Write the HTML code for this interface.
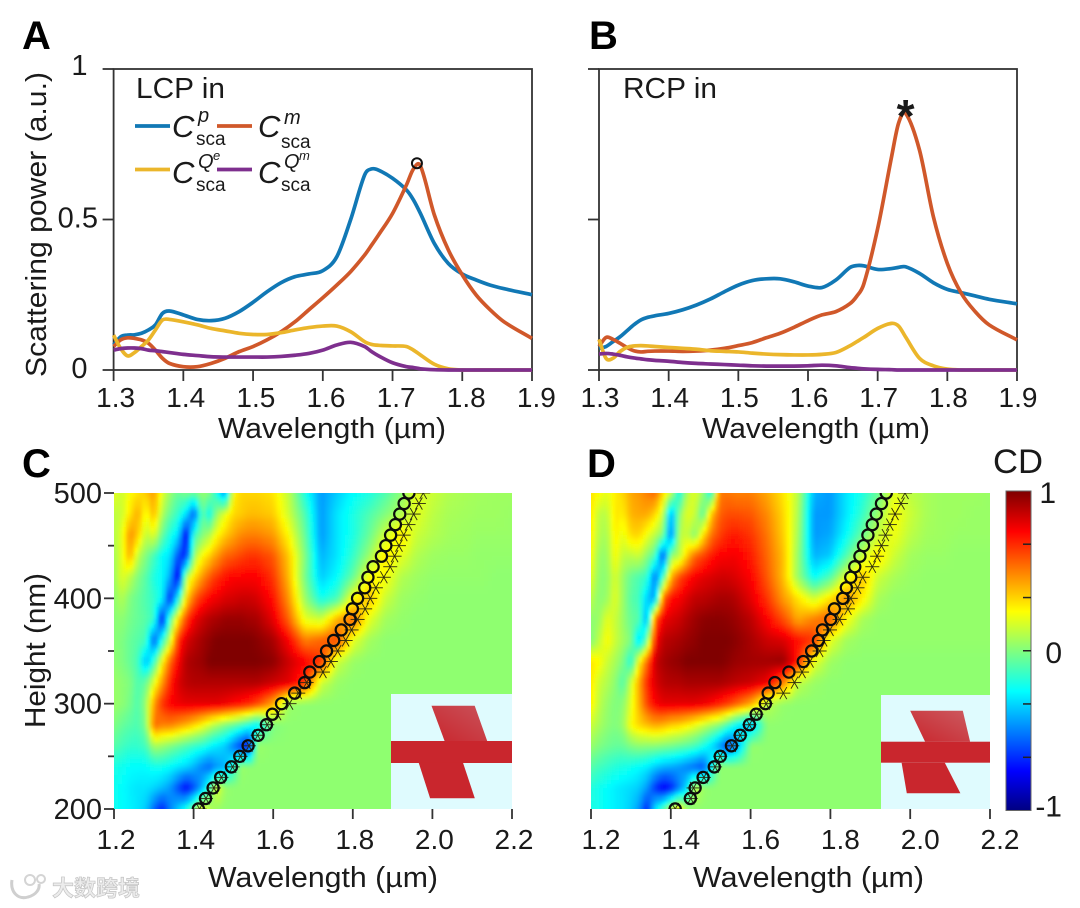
<!DOCTYPE html>
<html lang="en">
<head>
<meta charset="utf-8">
<title>Scattering power and CD maps</title>
<style>
html,body{margin:0;padding:0;background:#fff;}
svg{display:block;}
text{font-family:"Liberation Sans","Noto Sans CJK SC",sans-serif;fill:#1a1a1a;}
</style>
</head>
<body>
<svg id="figure" width="1080" height="908" viewBox="0 0 1080 908" xmlns="http://www.w3.org/2000/svg">
<defs>
  <filter id="soften" x="-2%" y="-2%" width="104%" height="104%"><feGaussianBlur stdDeviation="1.6"/></filter>
  <clipPath id="clip-c"><rect x="114" y="493" width="398" height="316"/></clipPath>
  <clipPath id="clip-d"><rect x="591" y="493" width="399" height="316"/></clipPath>
  <linearGradient id="arm-c" x1="1" y1="0" x2="0" y2="1"><stop offset="0" stop-color="#c9525a"/><stop offset="1" stop-color="#c9262d"/></linearGradient>
  <linearGradient id="arm-d" x1="1" y1="0" x2="0" y2="1"><stop offset="0" stop-color="#cc5a60"/><stop offset="1" stop-color="#c9262d"/></linearGradient>
</defs>
<rect x="0" y="0" width="1080" height="908" fill="#fff"/>
<g id="layer-heat"></g>
<g id="layer-inset">
  <rect x="391" y="694" width="121" height="115" fill="#dffbfe"/>
  <polygon points="431.5,705.7 474.7,705.7 487.2,741 444.6,741" fill="url(#arm-c)"/>
  <rect x="391" y="741" width="121" height="22" fill="#c9262d"/>
  <polygon points="418.7,762.7 463,762.7 474.8,798.3 430.1,798.3" fill="#c9262d"/>
  <rect x="881" y="695" width="109" height="114" fill="#dffbfe"/>
  <polygon points="910.2,710.7 962.8,710.7 970.1,741.7 925.1,741.7" fill="url(#arm-d)"/>
  <rect x="881" y="741.7" width="109" height="21" fill="#c9262d"/>
  <polygon points="901.6,762.7 944.8,762.7 960.4,793.3 906.8,793.3" fill="#c9262d"/>
</g>
<g id="layer-axes"></g>
<g id="layer-series"></g>

<text x="22" y="49" font-size="40" font-weight="700" style="fill:#000">A</text>
<text x="589" y="49" font-size="40" font-weight="700" style="fill:#000">B</text>
<text x="22" y="477" font-size="40" font-weight="700" style="fill:#000">C</text>
<text x="587" y="477" font-size="40" font-weight="700" style="fill:#000">D</text>

<text transform="translate(46,377) rotate(-90)" font-size="29" textLength="305" lengthAdjust="spacingAndGlyphs">Scattering power (a.u.)</text>
<text x="218" y="438" font-size="29" textLength="228" lengthAdjust="spacingAndGlyphs">Wavelength (µm)</text>
<text x="702" y="438" font-size="29" textLength="228" lengthAdjust="spacingAndGlyphs">Wavelength (µm)</text>
<text transform="translate(45,728) rotate(-90)" font-size="29" textLength="155" lengthAdjust="spacingAndGlyphs">Height (nm)</text>
<text x="208" y="887" font-size="29" textLength="230" lengthAdjust="spacingAndGlyphs">Wavelength (µm)</text>
<text x="693" y="887" font-size="29" textLength="231" lengthAdjust="spacingAndGlyphs">Wavelength (µm)</text>

<text x="136" y="98" font-size="29" textLength="89" lengthAdjust="spacingAndGlyphs">LCP in</text>
<text x="623" y="98" font-size="29" textLength="94" lengthAdjust="spacingAndGlyphs">RCP in</text>

<g>
  <line x1="135" x2="170" y1="126" y2="126" stroke="#1178b5" stroke-width="3.8"/>
  <line x1="217" x2="252" y1="126" y2="126" stroke="#d0582a" stroke-width="3.8"/>
  <line x1="135" x2="170" y1="169.5" y2="169.5" stroke="#ebb62b" stroke-width="3.8"/>
  <line x1="217" x2="252" y1="169.5" y2="169.5" stroke="#7e2f8e" stroke-width="3.8"/>
  <g>
    <text x="172" y="137" font-size="31" font-style="italic">C</text>
    <text x="198" y="122" font-size="20" font-style="italic">p</text>
    <text x="196" y="145" font-size="19">sca</text>
  </g>
  <g>
    <text x="258" y="137" font-size="31" font-style="italic">C</text>
    <text x="284" y="124" font-size="20" font-style="italic">m</text>
    <text x="281" y="148" font-size="19">sca</text>
  </g>
  <g>
    <text x="172" y="183" font-size="31" font-style="italic">C</text>
    <text x="198" y="168" font-size="20" font-style="italic">Q</text>
    <text x="213" y="160" font-size="13" font-style="italic">e</text>
    <text x="196" y="191" font-size="19">sca</text>
  </g>
  <g>
    <text x="258" y="183" font-size="31" font-style="italic">C</text>
    <text x="284" y="168" font-size="20" font-style="italic">Q</text>
    <text x="299" y="160" font-size="13" font-style="italic">m</text>
    <text x="281" y="191" font-size="19">sca</text>
  </g>
</g>

<text x="993" y="473" font-size="34" textLength="50" lengthAdjust="spacingAndGlyphs">CD</text>

<g>
  <path d="M12 880 C10 892 18 900 28 897 C36 895 40 889 39 884" fill="none" stroke="#cfcfcf" stroke-width="3"/>
  <circle cx="30" cy="880" r="5" fill="none" stroke="#d4d4d4" stroke-width="2"/>
  <circle cx="41" cy="879" r="4" fill="none" stroke="#d4d4d4" stroke-width="2"/>
  <text x="52" y="896" font-size="22" font-weight="700" style="font-family:'Noto Sans CJK SC','WenQuanYi Zen Hei',sans-serif;fill:#ececec;stroke:#c4c4c4;stroke-width:.7">大数跨境</text>
</g>

<script>
/* ---------- line chart data (panels A and B) ---------- */
const curveWavelengths = [1.30,1.31,1.32,1.33,1.34,1.35,1.36,1.37,1.38,1.40,1.42,1.44,1.46,1.48,1.50,1.52,1.54,1.56,1.58,1.60,1.62,1.64,1.66,1.67,1.68,1.70,1.72,1.73,1.74,1.76,1.78,1.80,1.82,1.84,1.86,1.90];
const lcpP  = [.083,.11,.116,.117,.122,.133,.15,.188,.196,.183,.168,.164,.172,.194,.225,.26,.29,.31,.319,.33,.376,.50,.648,.668,.664,.637,.598,.565,.52,.42,.354,.319,.299,.282,.27,.25];
const lcpM  = [.078,.10,.107,.105,.10,.089,.066,.039,.022,.011,.011,.022,.039,.061,.078,.10,.127,.16,.20,.24,.282,.327,.382,.415,.449,.52,.615,.668,.678,.515,.399,.316,.249,.20,.16,.105];
const lcpQe = [.116,.072,.047,.058,.078,.10,.133,.166,.168,.16,.15,.138,.13,.122,.118,.118,.124,.133,.141,.146,.146,.127,.094,.085,.082,.08,.078,.066,.05,.019,.004,0,0,0,0,0];
const lcpQm = [.066,.071,.073,.073,.071,.066,.064,.061,.058,.052,.048,.044,.043,.043,.043,.043,.045,.049,.055,.066,.083,.092,.078,.061,.047,.024,.011,.008,.004,.001,0,0,0,0,0,0];
const rcpP  = [.072,.078,.094,.11,.13,.15,.166,.175,.18,.188,.20,.216,.236,.26,.282,.297,.303,.303,.293,.279,.274,.299,.34,.347,.346,.334,.337,.341,.343,.321,.29,.268,.257,.246,.235,.22];
const rcpM  = [.078,.108,.102,.089,.075,.064,.06,.062,.063,.063,.062,.063,.066,.072,.081,.091,.107,.122,.142,.164,.183,.194,.22,.245,.285,.47,.709,.82,.853,.731,.509,.354,.255,.194,.15,.10];
const rcpQe = [.102,.039,.039,.061,.075,.08,.081,.08,.078,.075,.072,.069,.064,.062,.06,.056,.053,.051,.05,.05,.052,.058,.08,.094,.108,.138,.155,.146,.11,.039,.014,.003,0,0,0,0];
const rcpQm = [.053,.055,.053,.049,.044,.04,.037,.034,.032,.029,.025,.022,.02,.018,.016,.014,.013,.013,.013,.014,.016,.014,.008,.006,.004,.002,.001,0,0,0,0,0,0,0,0,0];
const lineXTicks = [1.3,1.4,1.5,1.6,1.7,1.8,1.9];
const lineXTickLabels = ['1.3','1.4','1.5','1.6','1.7','1.8','1.9'];
const lineYTicks = [0,0.5,1];
const lineYTickLabels = ['0','0.5','1'];
const lcpPeakMarker = [1.735,0.687];
const rcpPeakMarker = [1.74,0.90];

/* ---------- heatmap data (panels C and D) ---------- */
const heatWavelengths = [1.20,1.22,1.24,1.26,1.28,1.30,1.32,1.34,1.36,1.38,1.40,1.42,1.44,1.46,1.48,1.50,1.52,1.54,1.56,1.60,1.64,1.68,1.72,1.76,1.80,1.84,1.88,1.92,1.96,2.00,2.04,2.08,2.12,2.16,2.20];
const heatHeights = [500,480,460,440,420,400,380,360,340,320,300,280,260,240,220,200];
const cdC = [
[.2,.15,.25,.3,.35,.45,.2,.05,-.05,0,-.05,.05,0,-.2,-.5,.25,.33,.33,.33,.3,.12,-.2,-.45,-.35,-.25,-.2,-.1,.02,.2,.15,.1,.08,.07,.06,.06],
[.12,.15,.3,.42,.22,.4,.1,-.05,-.15,-.3,-.6,-.05,-.25,.05,.2,.32,.35,.38,.38,.35,.15,-.1,-.45,-.3,-.2,-.1,0,.1,.2,.12,.08,.07,.06,.06,.05],
[.1,.2,.48,.35,.12,.2,-.05,-.2,-.3,-.8,-.15,0,.1,.25,.35,.42,.48,.5,.5,.45,.25,-.05,-.45,-.3,-.2,-.05,.15,.3,.15,.1,.07,.06,.05,.05,.05],
[.07,.2,.42,.12,0,-.12,-.25,-.3,-.6,-.7,.05,.25,.35,.45,.55,.58,.62,.65,.65,.58,.35,0,-.4,-.3,-.15,.05,.3,.2,.1,.06,.05,.05,.04,.04,.04],
[.05,.2,.12,0,-.08,-.2,-.25,-.4,-.85,.1,.3,.45,.58,.65,.72,.75,.75,.75,.75,.65,.38,-.02,-.35,-.25,-.05,.25,.25,.1,.06,.04,.04,.04,.04,.03,.03],
[.03,.1,0,-.05,-.1,-.15,-.25,-.7,-.25,.3,.55,.68,.75,.78,.82,.83,.85,.85,.83,.72,.45,.05,-.22,-.12,.25,.38,.15,.06,.04,.03,.03,.03,.03,.03,.03],
[.02,.03,-.02,-.05,-.08,-.15,-.75,-.1,.3,.62,.78,.85,.9,.92,.95,.95,.95,.93,.92,.8,.55,.2,.15,.4,.55,.2,.07,.04,.03,.03,.03,.03,.03,.03,.03],
[.02,0,-.05,-.08,-.12,-.6,-.2,.15,.65,.82,.88,.93,.97,1,1,1,1,1,.98,.92,.75,.5,.55,.62,.2,.07,.03,.03,.03,.03,.03,.03,.03,.03,.03],
[.03,0,-.05,-.12,-.4,-.15,.25,.55,.75,.9,.93,.95,1,1,1,1,1,1,1,.97,.85,.75,.65,.15,.05,.03,.03,.03,.03,.03,.03,.03,.03,.03,.03],
[.05,.03,0,-.1,-.05,.2,.45,.68,.82,.88,.9,.9,.9,.9,.9,.9,.9,.9,.9,.85,.8,.65,.15,.05,.03,.03,.03,.03,.03,.03,.03,.03,.03,.03,.03],
[.05,.03,-.02,-.1,.05,.45,.65,.75,.78,.8,.8,.8,.8,.8,.78,.75,.72,.68,.62,.42,.05,.03,.03,.03,.03,.03,.03,.03,.03,.03,.03,.03,.03,.03,.03],
[0,-.05,-.08,-.1,0,.55,.5,.5,.45,.4,.33,.25,.15,.08,0,-.05,-.12,-.2,-.3,0,.03,.03,.03,.03,.03,.03,.03,.03,.03,.03,.03,.03,.03,.03,.03],
[-.08,-.12,-.15,-.15,-.12,.08,.05,0,-.05,-.1,-.15,-.18,-.25,-.3,-.35,-.5,-.65,-.75,.05,.03,.03,.03,.03,.03,.03,.03,.03,.03,.03,.03,.03,.03,.03,.03,.03],
[-.2,-.22,-.25,-.25,-.25,-.22,-.22,-.25,-.3,-.33,-.4,-.5,-.55,-.45,-.4,-.2,.05,.03,.03,.03,.03,.03,.03,.03,.03,.03,.03,.03,.03,.03,.03,.03,.03,.03,.03],
[-.22,-.25,-.28,-.3,-.3,-.33,-.38,-.45,-.6,-.75,-.6,-.4,-.1,.2,.05,.03,.03,.03,.03,.03,.03,.03,.03,.03,.03,.03,.03,.03,.03,.03,.03,.03,.03,.03,.03],
[-.22,-.25,-.27,-.3,-.35,-.55,-.7,-.5,-.35,-.2,0,.25,.1,.05,.03,.03,.03,.03,.03,.03,.03,.03,.03,.03,.03,.03,.03,.03,.03,.03,.03,.03,.03,.03,.03]
];
const cdD = [
[.3,.25,.2,.28,.33,.42,.45,.5,.55,.33,.15,-.25,.1,.2,.05,-.25,.5,.52,.5,.5,.42,.3,.12,-.4,-.45,-.3,-.2,-.05,.2,.12,.08,.06,.06,.06,.05],
[.3,.12,.12,.3,.28,.4,.42,.42,.33,.15,-.45,0,.2,.15,-.1,.35,.55,.6,.6,.58,.48,.33,.1,-.45,-.45,-.3,-.15,.05,.25,.15,.08,.06,.06,.05,.05],
[.28,.1,.08,.28,.2,.32,.33,.22,.12,0,-.55,.1,.15,0,.3,.52,.62,.68,.7,.65,.52,.35,.08,-.45,-.42,-.25,-.05,.15,.22,.12,.07,.06,.05,.05,.05],
[.25,.05,.05,.25,.12,.12,.15,.02,-.1,-.65,.05,.1,.35,.55,.62,.7,.75,.76,.77,.7,.55,.38,.05,-.4,-.35,-.1,.15,.3,.15,.07,.05,.05,.04,.04,.04],
[.2,.03,.03,.18,.05,-.05,-.1,-.15,-.55,-.15,.4,.6,.7,.76,.8,.82,.84,.84,.82,.75,.58,.38,.05,-.25,-.1,.2,.38,.15,.08,.05,.04,.04,.04,.04,.04],
[.12,.02,.05,.2,.05,-.08,-.12,-.35,-.45,.55,.72,.76,.82,.87,.88,.9,.92,.92,.9,.8,.65,.45,.3,.15,.3,.48,.28,.08,.04,.04,.04,.04,.04,.04,.04],
[.03,.05,.2,.15,.05,-.05,-.08,-.45,.55,.78,.82,.85,.9,.94,.97,.98,.98,.97,.95,.88,.75,.6,.42,.5,.58,.25,.08,.04,.04,.04,.04,.04,.04,.04,.04],
[0,.12,.25,.15,.07,0,-.35,-.05,.72,.88,.9,.92,.95,.97,1,1,1,1,.98,.92,.85,.82,.72,.65,.2,.07,.04,.04,.04,.04,.04,.04,.04,.04,.04],
[.3,.25,.15,.08,0,-.2,.25,.55,.85,.92,.95,.97,1,1,1,1,1,.98,.95,.93,.93,.95,.7,.2,.06,.03,.03,.03,.03,.03,.03,.03,.03,.03,.03],
[.3,.15,.1,.03,-.1,.15,.42,.68,.82,.88,.9,.9,.92,.92,.92,.92,.92,.9,.88,.85,.78,.5,.12,.05,.03,.03,.03,.03,.03,.03,.03,.03,.03,.03,.03],
[.28,.12,.05,0,.02,.2,.4,.62,.75,.8,.8,.8,.8,.8,.78,.75,.7,.65,.58,.42,.12,.04,.03,.03,.03,.03,.03,.03,.03,.03,.03,.03,.03,.03,.03],
[.15,.08,.03,0,.05,.25,.33,.38,.42,.4,.35,.33,.28,.22,.15,.08,.02,-.1,-.25,-.4,.03,.03,.03,.03,.03,.03,.03,.03,.03,.03,.03,.03,.03,.03,.03],
[.05,0,-.03,-.05,-.05,0,.03,.02,.02,0,-.02,-.05,-.08,-.12,-.2,-.3,-.45,-.62,-.5,.04,.03,.03,.03,.03,.03,.03,.03,.03,.03,.03,.03,.03,.03,.03,.03],
[-.08,-.12,-.15,-.18,-.2,-.22,-.25,-.28,-.35,-.4,-.42,-.45,-.5,-.55,-.6,-.3,.03,.03,.03,.03,.03,.03,.03,.03,.03,.03,.03,.03,.03,.03,.03,.03,.03,.03,.03],
[-.18,-.22,-.25,-.28,-.3,-.32,-.35,-.45,-.65,-.78,-.7,-.5,-.3,.15,.05,.03,.03,.03,.03,.03,.03,.03,.03,.03,.03,.03,.03,.03,.03,.03,.03,.03,.03,.03,.03],
[-.2,-.22,-.25,-.28,-.3,-.35,-.45,-.7,-.3,-.1,.15,.3,.05,.03,.03,.03,.03,.03,.03,.03,.03,.03,.03,.03,.03,.03,.03,.03,.03,.03,.03,.03,.03,.03,.03]
];
const markerHeights = [200,210,220,230,240,250,260,270,280,290,300,310,320,330,340,350,360,370,380,390,400,410,420,430,440,450,460,470,480,490,500];
const circlesC = [1.412,1.430,1.449,1.468,1.495,1.516,1.537,1.562,1.583,1.598,1.621,1.654,1.679,1.692,1.716,1.734,1.752,1.771,1.793,1.799,1.812,1.830,1.838,1.851,1.872,1.883,1.895,1.907,1.918,1.929,1.941];
const starsC   = [1.415,1.431,1.451,1.470,1.498,1.518,1.539,1.561,1.585,1.611,1.641,1.663,1.684,1.725,1.745,1.762,1.782,1.797,1.812,1.831,1.844,1.858,1.878,1.894,1.905,1.916,1.928,1.940,1.953,1.966,1.977];
const circlesD = [1.411,1.449,1.461,1.481,1.509,1.524,1.552,1.574,1.597,1.614,1.637,1.644,1.661,1.696,1.732,1.753,1.770,1.780,1.801,1.810,1.831,1.840,1.851,1.861,1.874,1.883,1.894,1.905,1.915,1.928,1.940];
const starsD   = [1.411,1.450,1.457,1.483,1.511,1.524,1.554,1.574,1.597,1.615,1.639,1.682,1.710,1.729,1.749,1.773,1.783,1.799,1.823,1.844,1.851,1.868,1.881,1.905,1.917,1.928,1.938,1.949,1.962,1.977,1.987];
const heatXTicks = [1.2,1.4,1.6,1.8,2.0,2.2];
const heatXTickLabels = ['1.2','1.4','1.6','1.8','2.0','2.2'];
const heatYMajorTicks = [200,300,400,500];
const heatYMajorLabels = ['200','300','400','500'];
const heatYMinorTicks = [250,350,450];
const colorbarTicks = [-0.667,-0.333,0,0.333,0.667];
const colorbarLabelValues = [1,0,-1];
const colorbarLabels = ['1','0','-1'];

/* ---------- helpers ---------- */
const NS = 'http://www.w3.org/2000/svg';
function mk(tag, parent, geometry) {
  const el = document.createElementNS(NS, tag);
  for (const k in geometry) el.setAttribute(k, geometry[k]);
  parent.appendChild(el);
  return el;
}
function linear(d0, d1, r0, r1) {
  return function (v) { return r0 + (v - d0) * (r1 - r0) / (d1 - d0); };
}
function clamp01(v) { return Math.max(0, Math.min(1, v)); }
function jet(v) {
  const t = clamp01((v + 1) / 2);
  const r = clamp01(1.5 - Math.abs(4 * t - 3));
  const g = clamp01(1.5 - Math.abs(4 * t - 2));
  const b = clamp01(1.5 - Math.abs(4 * t - 1));
  return 'rgb(' + Math.round(r * 255) + ',' + Math.round(g * 255) + ',' + Math.round(b * 255) + ')';
}
function sampleHeat(matrix, wl, h) {
  let i = 0;
  while (i < heatWavelengths.length - 2 && wl > heatWavelengths[i + 1]) i++;
  let j = 0;
  while (j < heatHeights.length - 2 && h < heatHeights[j + 1]) j++;
  const fx = clamp01((wl - heatWavelengths[i]) / (heatWavelengths[i + 1] - heatWavelengths[i]));
  const fy = clamp01((h - heatHeights[j]) / (heatHeights[j + 1] - heatHeights[j]));
  const a = matrix[j][i] * (1 - fx) + matrix[j][i + 1] * fx;
  const b = matrix[j + 1][i] * (1 - fx) + matrix[j + 1][i + 1] * fx;
  return a * (1 - fy) + b * fy;
}
function curvePath(xs, ys, sx, sy) {
  let d = 'M' + sx(xs[0]).toFixed(2) + ' ' + sy(ys[0]).toFixed(2);
  const slope = function (i) {
    const a = Math.max(0, i - 1), b = Math.min(xs.length - 1, i + 1);
    return (ys[b] - ys[a]) / (xs[b] - xs[a]);
  };
  for (let i = 0; i < xs.length - 1; i++) {
    const h = xs[i + 1] - xs[i];
    const x1 = xs[i] + h / 3, y1 = ys[i] + slope(i) * h / 3;
    const x2 = xs[i + 1] - h / 3, y2 = ys[i + 1] - slope(i + 1) * h / 3;
    d += 'C' + sx(x1).toFixed(2) + ' ' + sy(y1).toFixed(2) + ' ' + sx(x2).toFixed(2) + ' ' + sy(y2).toFixed(2) + ' ' + sx(xs[i + 1]).toFixed(2) + ' ' + sy(ys[i + 1]).toFixed(2);
  }
  return d;
}

const axesLayer = document.getElementById('layer-axes');
const seriesLayer = document.getElementById('layer-series');
const heatLayer = document.getElementById('layer-heat');
const AXIS = '#333';

/* ---------- panels A and B ---------- */
function drawLinePanel(key, left, right, showYLabels, series, labelShift) {
  const sx = linear(1.3, 1.9, left, right);
  const sy = linear(0, 1, 370, 69);
  const frame = mk('rect', axesLayer, {x: left, y: 69, width: right - left, height: 301, fill: 'none', stroke: AXIS, 'stroke-width': 1.8});
  
  
  lineXTicks.forEach(function (t, i) {
    const tick = mk('line', axesLayer, {x1: sx(t), x2: sx(t), y1: 370, y2: 381, stroke: AXIS, 'stroke-width': 1.8});
    
    
    const label = mk('text', axesLayer, {x: sx(t) + labelShift(t), y: 407, 'font-size': 28, 'text-anchor': 'middle'});
    label.textContent = lineXTickLabels[i];
    
    
  });
  lineYTicks.forEach(function (t, i) {
    const tick = mk('line', axesLayer, {x1: left - 11, x2: left, y1: sy(t), y2: sy(t), stroke: AXIS, 'stroke-width': 1.8});
    
    
    if (showYLabels) {
      const label = mk('text', axesLayer, {x: 98 - (t === 0.5 ? 0 : 10.5), y: sy(t) + (t === 1 ? 6 : 8), 'font-size': 29, 'text-anchor': 'end'});
      label.textContent = lineYTickLabels[i];
      
      
    }
  });
  series.forEach(function (s) {
    const path = mk('path', seriesLayer, {d: curvePath(curveWavelengths, s.values, sx, sy), fill: 'none', stroke: s.color, 'stroke-width': 3.7, 'stroke-linejoin': 'round'});
    
    
  });
  return {sx: sx, sy: sy};
}
const BLUE = '#1178b5', ORANGE = '#d0582a', YELLOW = '#ebb62b', PURPLE = '#7e2f8e';
const scaleA = drawLinePanel('a', 113.6, 532, true, [
  {id: 'p', values: lcpP, color: BLUE},
  {id: 'm', values: lcpM, color: ORANGE},
  {id: 'qe', values: lcpQe, color: YELLOW},
  {id: 'qm', values: lcpQm, color: PURPLE}
], function (t) { return 2 + (t - 1.3) * 4; });
const scaleB = drawLinePanel('b', 599, 1017, false, [
  {id: 'p', values: rcpP, color: BLUE},
  {id: 'm', values: rcpM, color: ORANGE},
  {id: 'qe', values: rcpQe, color: YELLOW},
  {id: 'qm', values: rcpQm, color: PURPLE}
], function (t) { return 1; });

const peakCircle = mk('circle', seriesLayer, {cx: scaleA.sx(lcpPeakMarker[0]), cy: scaleA.sy(lcpPeakMarker[1]), r: 5, fill: 'none', stroke: '#111', 'stroke-width': 2});


const peakStar = mk('text', seriesLayer, {x: scaleB.sx(rcpPeakMarker[0]), y: scaleB.sy(rcpPeakMarker[1]) + 33, 'font-size': 46, 'font-weight': 700, 'text-anchor': 'middle'});
peakStar.textContent = '*';



/* ---------- panels C and D ---------- */
function drawHeatPanel(key, left, right, matrix, circles, stars, showYLabels, labelShift) {
  const top = 493, bottom = 809;
  const sx = linear(1.2, 2.2, left, right);
  const sy = linear(200, 500, bottom, top);
  const clipGroup = mk('g', heatLayer, {'clip-path': 'url(#clip-' + key + ')'});
  
  
  const group = mk('g', clipGroup, {'shape-rendering': 'crispEdges', filter: 'url(#soften)'});
  
  
  const stepW = 0.01, stepH = 4;
  const cols = Math.round(1 / stepW), rows = Math.round(300 / stepH);
  for (let c = -2; c < cols + 2; c++) {
    for (let r = -2; r < rows + 2; r++) {
      const wl = 1.2 + c * stepW, h = 200 + r * stepH;
      const x0 = Math.round(sx(wl)), x1 = Math.round(sx(wl + stepW));
      const y0 = Math.round(sy(h + stepH)), y1 = Math.round(sy(h));
      const cell = mk('rect', group, {x: x0, y: y0, width: x1 - x0, height: y1 - y0, fill: jet(sampleHeat(matrix, wl + stepW / 2, h + stepH / 2))});
      
      
    }
  }
  heatXTicks.forEach(function (t, i) {
    const tick = mk('line', axesLayer, {x1: sx(t), x2: sx(t), y1: bottom, y2: bottom + 10, stroke: AXIS, 'stroke-width': 1.8});
    
    
    const label = mk('text', axesLayer, {x: sx(t) + labelShift, y: 849, 'font-size': 28, 'text-anchor': 'middle'});
    label.textContent = heatXTickLabels[i];
    
    
  });
  if (showYLabels) {
    heatYMajorTicks.forEach(function (t, i) {
      const tick = mk('line', axesLayer, {x1: left - 10, x2: left, y1: sy(t), y2: sy(t), stroke: AXIS, 'stroke-width': 1.8});
      
      
      const label = mk('text', axesLayer, {x: 102, y: sy(t) + 10, 'font-size': 29, 'text-anchor': 'end'});
      label.textContent = heatYMajorLabels[i];
      
      
    });
    heatYMinorTicks.forEach(function (t) {
      const tick = mk('line', axesLayer, {x1: left - 6, x2: left, y1: sy(t), y2: sy(t), stroke: AXIS, 'stroke-width': 1.8});
      
      
    });
  }
  const markers = mk('g', seriesLayer, {'clip-path': 'url(#clip-' + key + ')'});
  
  
  markerHeights.forEach(function (h, i) {
    const px = sx(stars[i]), py = sy(h);
    const star = mk('g', markers, {stroke: '#2a2a10', 'stroke-width': 0.9});
    
    
    [0, 60, 120].forEach(function (angle) {
      const dx = 7 * Math.cos(angle * Math.PI / 180), dy = 7 * Math.sin(angle * Math.PI / 180);
      mk('line', star, {x1: px - dx, y1: py - dy, x2: px + dx, y2: py + dy});
    });
  });
  markerHeights.forEach(function (h, i) {
    const dot = mk('circle', markers, {cx: sx(circles[i]), cy: sy(h), r: 5.6, fill: 'none', stroke: '#0c0c0c', 'stroke-width': 2.2});
    
    
  });
}
drawHeatPanel('c', 114, 512, cdC, circlesC, starsC, true, 2);
drawHeatPanel('d', 591, 990, cdD, circlesD, starsD, false, 10);

/* ---------- colour bar ---------- */
(function () {
  const sy = linear(-1, 1, 810.5, 491);
  const bar = mk('g', heatLayer, {'shape-rendering': 'crispEdges'});
  
  
  for (let py = 491; py < 811; py++) {
    const v = 1 - 2 * (py - 491) / 319.5;
    const swatch = mk('rect', bar, {x: 1006, y: py, width: 25, height: 1, fill: jet(v)});
    
    
  }
  const outline = mk('rect', axesLayer, {x: 1006, y: 491, width: 25, height: 319.5, fill: 'none', stroke: '#666', 'stroke-width': 1});
  
  
  colorbarTicks.forEach(function (t) {
    const tick = mk('line', axesLayer, {x1: 1023, x2: 1031, y1: sy(t), y2: sy(t), stroke: '#222', 'stroke-width': 1.5});
    
    
  });
  colorbarLabelValues.forEach(function (t, i) {
    const label = mk('text', axesLayer, {x: t === 1 ? 1056 : 1062, y: sy(t) + (t === 1 ? 12 : (t === 0 ? 12 : 6)), 'font-size': 30, 'text-anchor': 'end'});
    label.textContent = colorbarLabels[i];
    
    
  });
})();
</script>
</svg>
</body>
</html>
